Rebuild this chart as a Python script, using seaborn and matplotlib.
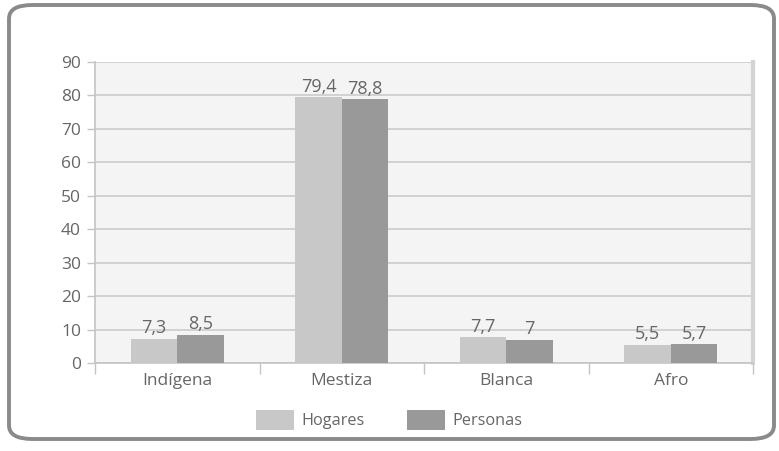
import matplotlib
matplotlib.use("Agg")
import matplotlib.pyplot as plt
import seaborn as sns
import pandas as pd
from matplotlib.patches import FancyBboxPatch, Patch
from matplotlib.ticker import FixedLocator

categories = ["Indígena", "Mestiza", "Blanca", "Afro"]
series_names = ["Hogares", "Personas"]
hogares = [7.3, 79.4, 7.7, 5.5]
personas = [8.5, 78.8, 7.0, 5.7]
y_ticks = [0, 10, 20, 30, 40, 50, 60, 70, 80, 90]

df = pd.DataFrame({
    "cat": categories * 2,
    "serie": [series_names[0]] * 4 + [series_names[1]] * 4,
    "val": hogares + personas,
})

sns.set_theme(style="white")
plt.rcParams["font.family"] = ["Open Sans", "DejaVu Sans"]
txt = "#666666"

fig = plt.figure(figsize=(7.79, 4.51), dpi=100)
ax = fig.add_axes([95 / 779, 1 - 363 / 451, (753 - 95) / 779, (363 - 62) / 451])

# rounded frame
frame = FancyBboxPatch((9 / 779, 12 / 451), (765 / 779), (434 / 451),
                       boxstyle="round,pad=0,rounding_size=0.03",
                       transform=fig.transFigure, facecolor="none",
                       edgecolor="#8a8a8a", linewidth=2.8, zorder=-5)
fig.patches.append(frame)

palette = {"Hogares": "#c8c8c8", "Personas": "#999999"}
sns.barplot(data=df, x="cat", y="val", hue="serie", order=categories,
            hue_order=series_names, palette=palette, width=0.565,
            saturation=1, ax=ax, legend=False, zorder=3, linewidth=0)

ax.set_facecolor("#f4f4f4")
ax.set_ylim(0, 90)
ax.set_xlim(-0.5, 3.5)
ax.set_yticks(y_ticks)
ax.yaxis.grid(True, color="#cccccc", linewidth=1.2, zorder=0)
ax.set_axisbelow(True)
ax.set_xlabel("")
ax.set_ylabel("")
ax.spines["top"].set_visible(False)
ax.spines["right"].set_color("#d4d4d4")
ax.spines["right"].set_linewidth(3)
for s in ["left", "bottom"]:
    ax.spines[s].set_color("#c4c4c4")
    ax.spines[s].set_linewidth(1.2)

ax.tick_params(axis="y", left=True, length=6, color="#c4c4c4", width=1,
               labelsize=12.5, labelcolor=txt, pad=4)
ax.tick_params(axis="x", bottom=False, labelsize=12.5, labelcolor=txt, pad=1)
ax.xaxis.set_minor_locator(FixedLocator([-0.5, 0.5, 1.5, 2.5, 3.5]))
ax.tick_params(axis="x", which="minor", bottom=True, length=8, color="#c4c4c4", width=1)

def fmt(v):
    s = f"{v:.1f}".replace(".", ",")
    return s[:-2] if s.endswith(",0") else s

for cont in ax.containers:
    ax.bar_label(cont, labels=[fmt(b.get_height()) for b in cont],
                 padding=1, fontsize=13, color=txt)

handles = [Patch(facecolor=palette[n], edgecolor="none", label=n) for n in series_names]
fig.legend(handles=handles, loc="center", bbox_to_anchor=(0.5, 1 - 420 / 451),
           ncol=2, frameon=False, fontsize=11.7, labelcolor=txt,
           handlelength=2.3, handleheight=1.6, columnspacing=2.6, handletextpad=0.5)

fig.savefig("out.png", dpi=100)
